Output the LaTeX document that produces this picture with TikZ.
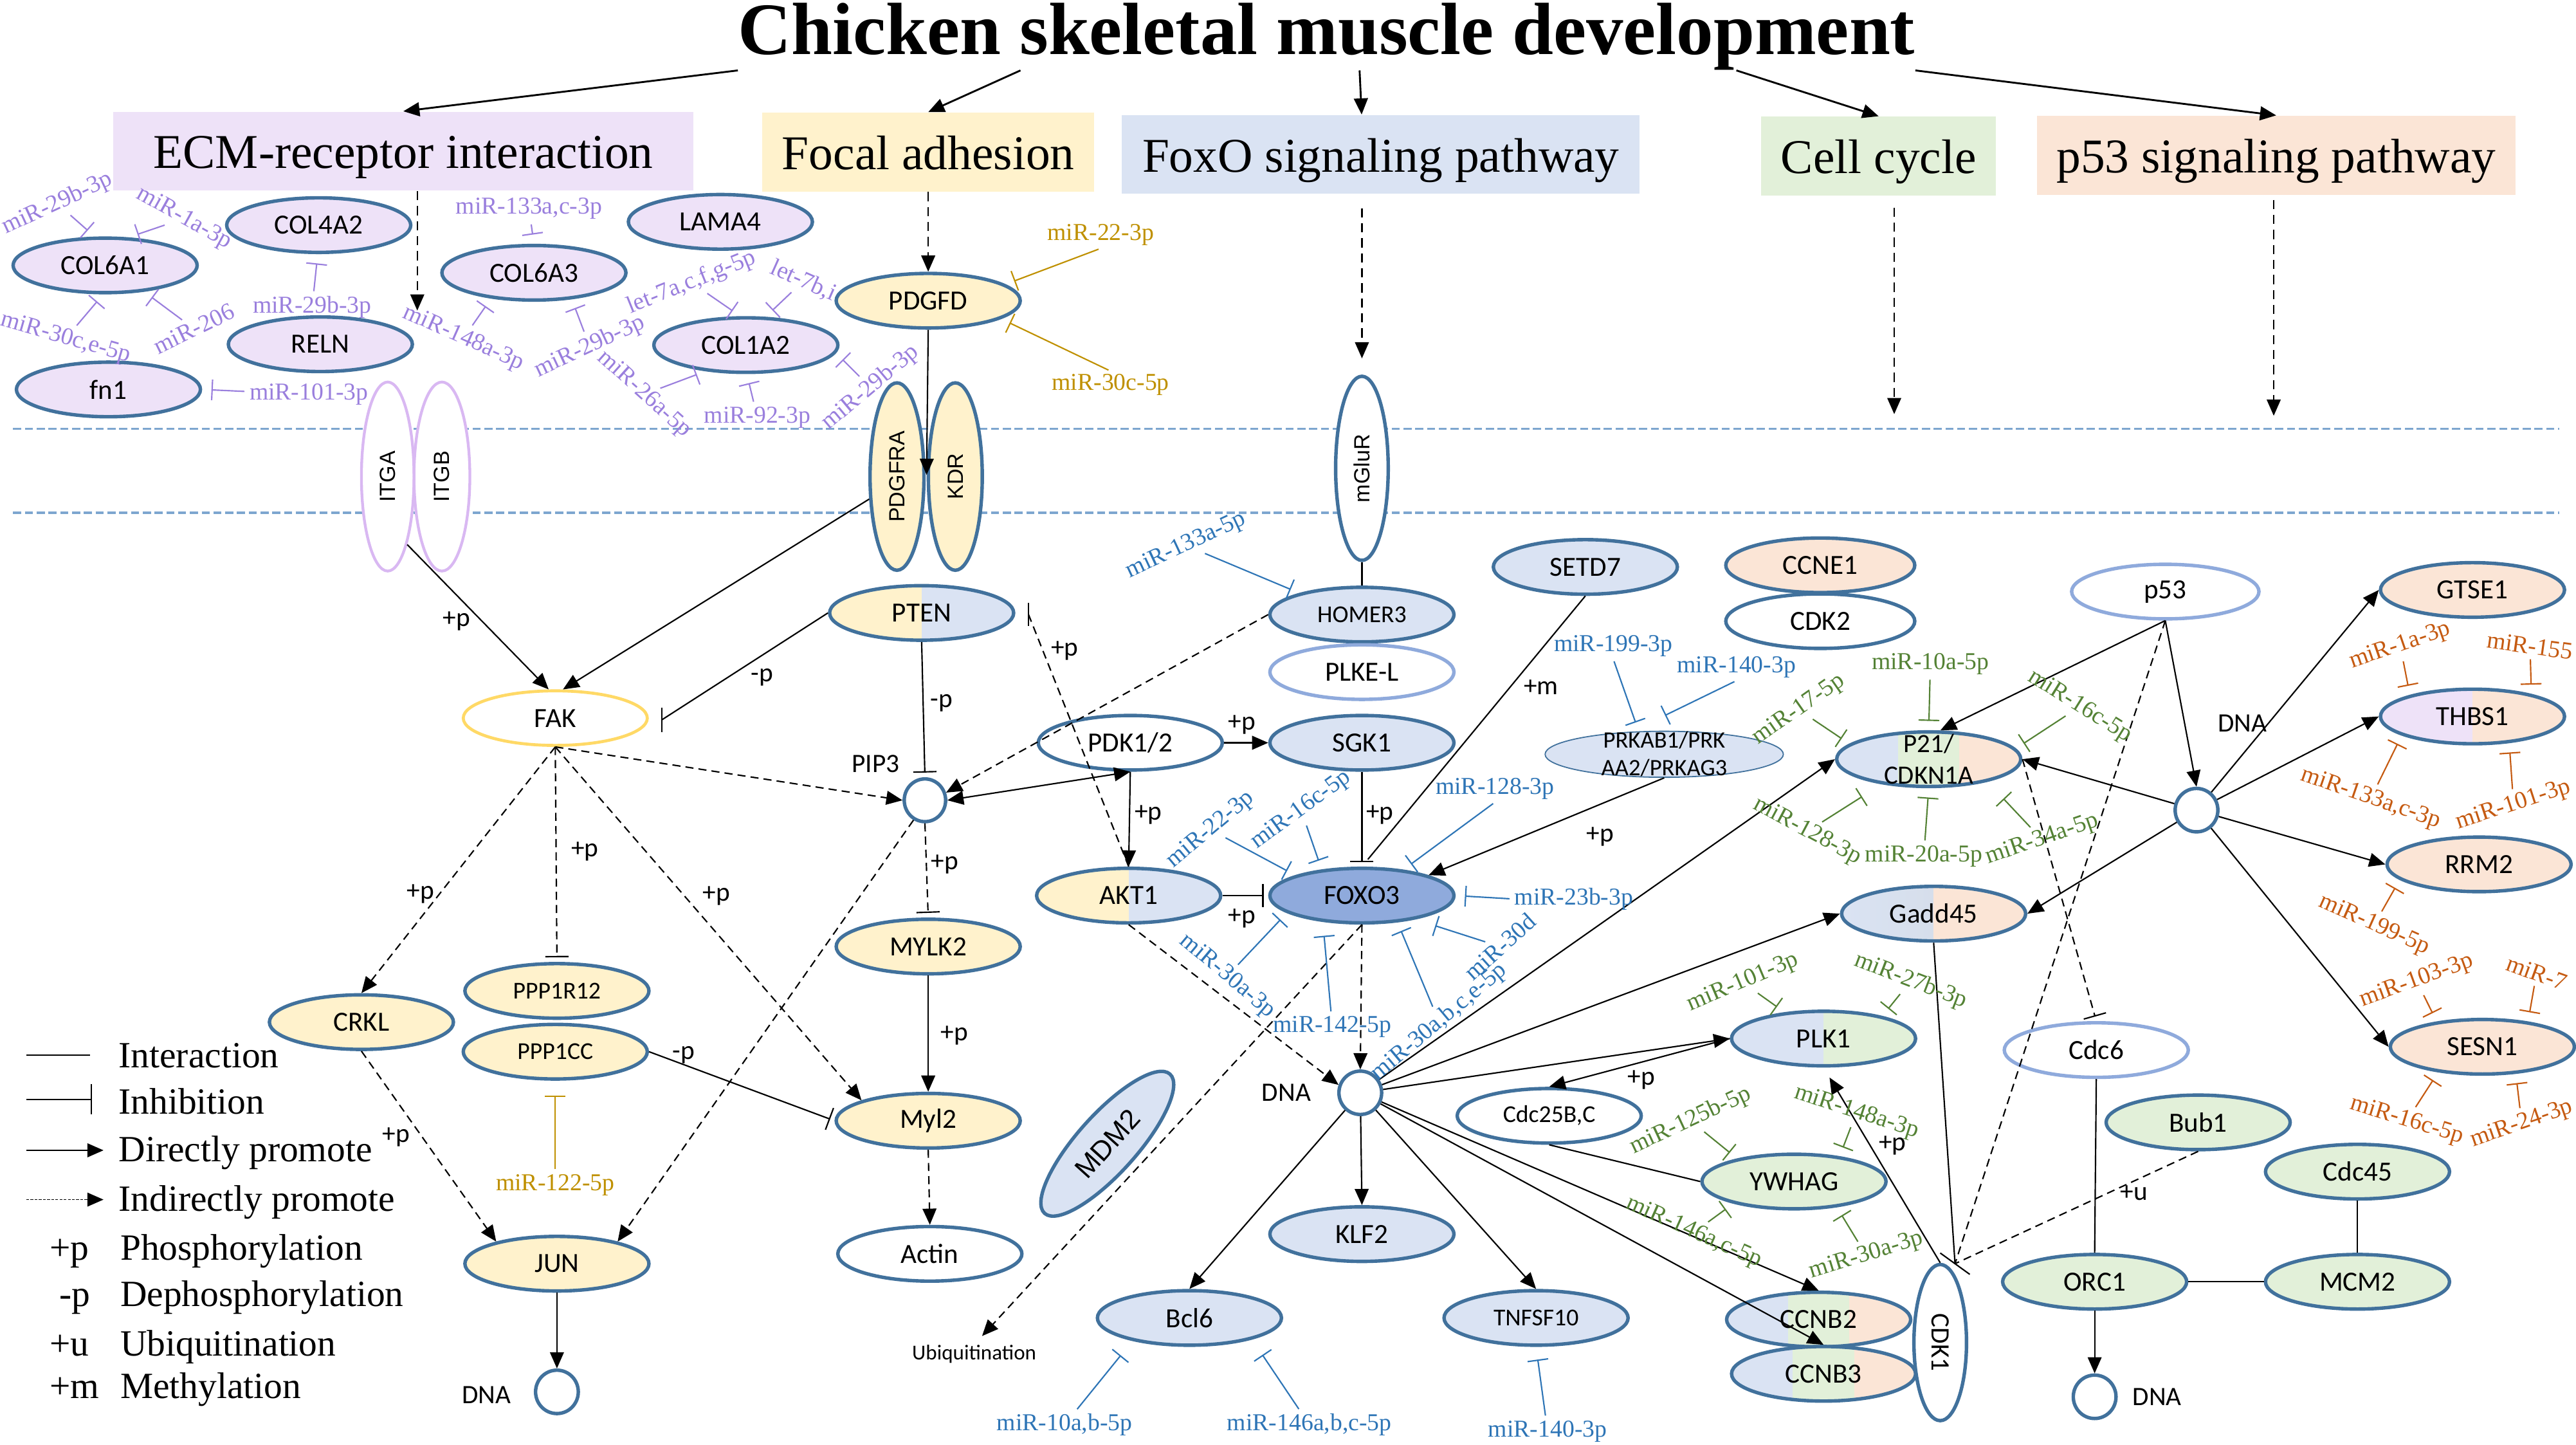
\documentclass[tikz,border=0pt]{standalone}
\usepackage{fontspec}
\usepackage{graphicx}
\setmainfont{Liberation Serif}
\newfontfamily\genefont{Carlito}
\newfontfamily\armfont{Liberation Sans}
\usetikzlibrary{shapes.geometric,arrows.meta,calc}

\definecolor{cbord}{HTML}{41719C}
\definecolor{clite}{HTML}{8FAADC}
\definecolor{cfak}{HTML}{FFD966}
\definecolor{citg}{HTML}{D9B8F2}
\definecolor{cpur}{HTML}{EEE2F8}
\definecolor{cyel}{HTML}{FFF2CC}
\definecolor{cblu}{HTML}{DAE3F3}
\definecolor{cdblu}{HTML}{8FAADC}
\definecolor{cgry}{HTML}{D2D9E3}
\definecolor{cgrn}{HTML}{E2F0D9}
\definecolor{cora}{HTML}{FBE5D6}
\definecolor{cmem}{HTML}{7DA6CF}
\definecolor{mpur}{HTML}{9A7FDD}
\definecolor{mgold}{HTML}{BF9000}
\definecolor{mblu}{HTML}{2E75B6}
\definecolor{mgrn}{HTML}{548235}
\definecolor{mora}{HTML}{C55A11}

\tikzset{
  gene/.style={ellipse, draw=cbord, line width=1.5pt, fill=white, minimum width=2.8cm,
    minimum height=0.83cm, inner sep=0pt, font=\genefont\fontsize{12}{13}\selectfont},
  sgene/.style={font=\genefont\fontsize{10.5}{12}\selectfont},
  vgene/.style={gene, minimum width=0.82cm, minimum height=2.85cm, font=\armfont\fontsize{9.5}{11}\selectfont},
  dna/.style={ellipse, draw=cbord, line width=1.5pt, fill=white, minimum width=0.65cm,
    minimum height=0.66cm, inner sep=0pt},
  twoline/.style={align=center, inner sep=0pt},
  lbl/.style={inner sep=0pt, font=\genefont\fontsize{11.5}{13}\selectfont},
  hdr/.style={rectangle, minimum height=1.2cm, inner sep=0pt, text height=16pt, text depth=1pt,
    font=\fontsize{21}{23}\selectfont},
  leg/.style={anchor=base west, inner sep=0pt, font=\fontsize{16}{18}\selectfont},
  half/.style 2 args={path picture={
    \fill[#1] (path picture bounding box.south west) rectangle (path picture bounding box.north);
    \fill[#2] (path picture bounding box.south) rectangle (path picture bounding box.north east);}},
  third/.style n args={3}{path picture={
    \fill[#1] (path picture bounding box.south west) rectangle ($(path picture bounding box.north west)!0.333!(path picture bounding box.north east)$);
    \fill[#2] ($(path picture bounding box.south west)!0.333!(path picture bounding box.south east)$) rectangle ($(path picture bounding box.north west)!0.667!(path picture bounding box.north east)$);
    \fill[#3] ($(path picture bounding box.south west)!0.667!(path picture bounding box.south east)$) rectangle (path picture bounding box.north east);}},
  gadd/.style={path picture={
    \shade[left color=cblu, right color=cgry] (path picture bounding box.south west) rectangle (path picture bounding box.north);
    \fill[cora] (path picture bounding box.south) rectangle (path picture bounding box.north east);}},
  ln/.style={line width=0.6pt},
  dln/.style={ln, dash pattern=on 3.5pt off 2.2pt},
  arr/.style={ln, -{Triangle[length=7pt,width=6pt]}},
  darr/.style={arr, dash pattern=on 3.5pt off 2.2pt},
  inh/.style={ln, -{Bar[width=10pt]}, shorten >=2pt},
  dinh/.style={inh, dash pattern=on 3.5pt off 2.2pt},
  mem/.style={draw=cmem, line width=0.9pt, dash pattern=on 3.5pt off 1.6pt},
  mir/.style={inner sep=1pt, font=\fontsize{10.5}{11}\selectfont},
  mp/.style={mir, text=mpur}, mgd/.style={mir, text=mgold}, mb/.style={mir, text=mblu},
  mg/.style={mir, text=mgrn}, mo/.style={mir, text=mora},
  mi/.style={line width=0.6pt, -{Bar[width=9pt]}, shorten >=4pt, shorten <=1pt},
  mip/.style={mi, draw=mpur}, migd/.style={mi, draw=mgold}, mib/.style={mi, draw=mblu},
  mig/.style={mi, draw=mgrn}, mio/.style={mi, draw=mora},
}

\begin{document}
\begin{tikzpicture}[x=0.025cm, y=-0.025cm]
\useasboundingbox (0,0) rectangle (1568,879);

\node[anchor=base, inner sep=0pt, font=\bfseries\fontsize{32}{36}\selectfont] (title) at (807.5,33) {Chicken skeletal muscle development};

\node[hdr, fill=cpur, minimum width=8.825cm] (ecm) at (245.5,92) {ECM-receptor interaction};
\node[hdr, fill=cyel, minimum width=5.05cm] (focal) at (565,92.5) {Focal adhesion};
\node[hdr, fill=cblu, minimum width=7.875cm] (foxo) at (840.5,94) {FoxO signaling pathway};
\node[hdr, fill=cgrn, minimum width=3.575cm] (cyc) at (1143.5,95) {Cell cycle};
\node[hdr, fill=cora, minimum width=7.275cm] (p53h) at (1385.5,94.5) {p53 signaling pathway};

\draw[arr, line width=0.8pt] (title.south west) -- (ecm.north);
\draw[arr, line width=0.8pt] ($(title.south west)!0.24!(title.south east)$) -- (focal.north);
\draw[arr, line width=0.8pt] ($(title.south west)!0.528!(title.south east)$) -- ($(foxo.north west)!0.463!(foxo.north east)$);
\draw[arr, line width=0.8pt] ($(title.south west)!0.848!(title.south east)$) -- (cyc.north);
\draw[arr, line width=0.8pt] (title.south east) -- (p53h.north);

\draw[mem] (8,261) -- (1558,261);
\draw[mem] (8,312) -- (1558,312);

% ECM-receptor interaction
\node[gene, fill=cpur] (COL6A1) at (64,161.5) {COL6A1};
\node[gene, fill=cpur] (COL4A2) at (194,137) {COL4A2};
\node[gene, fill=cpur] (COL6A3) at (325,166) {COL6A3};
\node[gene, fill=cpur] (LAMA4) at (438.5,135) {LAMA4};
\node[gene, fill=cpur] (RELN) at (195,209.5) {RELN};
\node[gene, fill=cpur] (COL1A2) at (454,210) {COL1A2};
\node[gene, fill=cpur] (fn1) at (66,237) {fn1};
\node[gene, fill=cyel] (PDGFD) at (565,183) {PDGFD};

\node[vgene, draw=citg, line width=1.2pt, minimum width=0.8cm, minimum height=2.875cm] (ITGA) at (236,290) {\rotatebox{90}{ITGA}};
\node[vgene, draw=citg, line width=1.2pt, minimum width=0.85cm, minimum height=2.875cm] (ITGB) at (269,290) {\rotatebox{90}{ITGB}};
\node[vgene, fill=cyel] (PDGFRA) at (546,290) {\rotatebox{90}{PDGFRA}};
\node[vgene, fill=cyel] (KDR) at (581.5,290) {\rotatebox{90}{KDR}};
\node[vgene, minimum width=0.8cm, minimum height=2.8cm] (mGluR) at (829,285) {\rotatebox{90}{mGluR}};

\coordinate (ecmtip) at (254,189);
\coordinate (cctip) at (1153,252);
\coordinate (p53tip) at (1384,253);
\draw[darr, dash pattern=on 4pt off 2.5pt] (ecm.south -| ecmtip) -- (ecmtip);
\draw[darr, dash pattern=on 4pt off 2.5pt] (focal.south) -- (PDGFD.north);
\draw[darr, dash pattern=on 4pt off 2.5pt, shorten <=6pt, shorten >=7pt] (foxo.south -| mGluR) -- (mGluR.north);
\draw[darr, dash pattern=on 4pt off 2.5pt, shorten <=5pt] (cyc.south -| cctip) -- (cctip);
\draw[darr, dash pattern=on 4pt off 2.5pt, shorten <=2pt] (p53h.south -| p53tip) -- (p53tip);

\node[mp, rotate=25] (m1) at (35,124) {miR-29b-3p};
\draw[mip] (m1) -- (COL6A1.110);
\node[mp, rotate=-29] (m2) at (112,133) {miR-1a-3p};
\draw[mip] (m2) -- (COL6A1.50);
\node[mp, rotate=-16] (m3) at (40,206) {miR-30c,e-5p};
\draw[mip] (m3) -- (COL6A1.266);
\node[mp, rotate=26] (m4) at (118,200) {miR-206};
\draw[mip] (m4) -- (COL6A1.-34);
\node[mp] (m5) at (190,187) {miR-29b-3p};
\draw[mip] (m5) -- (COL4A2.-92);
\node[mp] (m6) at (322,127) {miR-133a,c-3p};
\draw[mip] (m6) -- (COL6A3.north);
\node[mp, rotate=-24] (m7) at (282,206) {miR-148a-3p};
\draw[mip] (m7) -- (COL6A3.211);
\node[mp, rotate=25] (m8) at (359,211) {miR-29b-3p};
\draw[mip] (m8) -- (COL6A3.-35);
\node[mp, rotate=-42] (m9) at (392,240) {miR-26a-5p};
\draw[mip] (m9) -- (COL1A2.213);
\node[mp, rotate=22] (m10) at (421,172) {let-7a,c,f,g-5p};
\draw[mip] (m10) -- (COL1A2.101);
\node[mp, rotate=-24] (m11) at (489,171) {let-7b,i};
\draw[mip] (m11) -- (COL1A2.55);
\node[mp] (m12) at (461,254) {miR-92-3p};
\draw[mip] (m12) -- (COL1A2.-88);
\node[mp, rotate=40] (m13) at (530,236) {miR-29b-3p};
\draw[mip] (m13) -- (COL1A2.-5);
\node[mp] (m14) at (188,240) {miR-101-3p};
\draw[mip] (m14) -- (fn1.east);

% Focal adhesion
\node[mgd] (m15) at (670,143) {miR-22-3p};
\draw[migd] (m15.south) -- (PDGFD.12);
\node[mgd] (m16) at (676,234) {miR-30c-5p};
\draw[migd] (m16.north) -- (PDGFD.-14);

% signalling inside the cell
\node[gene, draw=cfak, line width=1.3pt] (FAK) at (338,437) {FAK};
\node[gene, half={cyel}{cblu}] (PTEN) at (561,373) {PTEN};
\node[gene, fill=cblu, sgene] (HOMER3) at (829,374) {HOMER3};
\node[gene, draw=clite] (PLKEL) at (829,409) {PLKE-L};
\node[gene, fill=cblu] (SETD7) at (965,345) {SETD7};
\node[gene, fill=cora, minimum width=2.875cm] (CCNE1) at (1108,344) {CCNE1};
\node[gene, minimum width=2.875cm] (CDK2) at (1108,378) {CDK2};
\node[gene, fill=cblu, line width=0.5pt, minimum width=3.625cm, minimum height=0.7cm] (PRKAB) at (1013,459) {};
\node[twoline, font=\genefont\fontsize{10.2}{12}\selectfont] (PRKABt) at (PRKAB) {PRKAB1/PRK\\AA2/PRKAG3};
\node[gene, draw=clite, minimum width=2.85cm] (p53) at (1318,360) {p53};
\node[gene, fill=cora] (GTSE1) at (1505,359) {GTSE1};
\node[gene, half={cpur}{cora}] (THBS1) at (1505,436) {THBS1};
\node[gene, fill=cora] (RRM2) at (1509,526) {RRM2};
\node[gene, fill=cora] (SESN1) at (1511,637) {SESN1};
\node[gene, third={cblu}{cgrn}{cora}] (P21) at (1174,462) {};
\node[twoline, font=\genefont\fontsize{11.4}{13.5}\selectfont] (P21t) at (P21) {P21/\\CDKN1A};
\node[gene, gadd] (Gadd45) at (1177,556) {Gadd45};
\node[gene] (PDK) at (688,452) {PDK1/2};
\node[gene, fill=cblu] (SGK1) at (829,452) {SGK1};
\node[dna, minimum width=0.63cm, minimum height=0.65cm] (PIP3) at (563,487) {};
\node[lbl] (PIP3l) at (533,465) {PIP3};
\node[gene, half={cyel}{cblu}] (AKT1) at (687,545) {AKT1};
\node[gene, fill=cdblu] (FOXO3) at (829,545) {FOXO3};
\node[gene, fill=cyel] (MYLK2) at (565,576) {MYLK2};
\node[dna] (dnap) at (1337,493) {};
\node[lbl] (dnapl) at (1365,440) {DNA};

\node[gene, fill=cyel] (CRKL) at (220,622) {CRKL};
\node[gene, fill=cyel, sgene] (PPP1R12) at (339,603) {PPP1R12};
\node[gene, fill=cyel, sgene] (PPP1CC) at (338,640) {PPP1CC};
\node[gene, fill=cyel] (JUN) at (339,769) {JUN};
\node[dna] (dna1) at (339,847) {};
\node[lbl] (dna1l) at (296,849) {DNA};
\node[gene, fill=cyel] (Myl2) at (565,682) {Myl2};
\node[gene] (Actin) at (566,763) {Actin};
\node[gene, fill=cblu, rotate=48, minimum width=2.85cm, minimum height=0.9cm, font=\armfont\fontsize{12}{13}\selectfont] (MDM2) at (674,696) {MDM2};
\node[inner sep=0pt, font=\genefont\fontsize{9.2}{11}\selectfont] (ubq) at (593,824) {Ubiquitination};
\node[dna] (dna2) at (828,665) {};
\node[lbl] (dna2l) at (783,665) {DNA};
\node[gene, fill=cblu] (KLF2) at (829,751) {KLF2};
\node[gene, fill=cblu] (Bcl6) at (724,802) {Bcl6};
\node[gene, fill=cblu, sgene] (TNFSF10) at (935,802) {TNFSF10};
\node[gene, sgene] (Cdc25) at (943,679) {Cdc25B,C};
\node[gene, half={cblu}{cgrn}] (PLK1) at (1110,632) {PLK1};
\node[gene, fill=cgrn] (YWHAG) at (1092,719) {YWHAG};
\node[gene, third={cblu}{cgrn}{cora}] (CCNB2) at (1107,803) {CCNB2};
\node[gene, third={cblu}{cgrn}{cora}] (CCNB3) at (1110,836) {CCNB3};
\node[gene, minimum width=0.8cm, minimum height=2.375cm, font=\genefont\fontsize{11.5}{13}\selectfont] (CDK1) at (1181,817) {\rotatebox{-90}{CDK1}};
\node[gene, draw=clite] (Cdc6) at (1276,639) {Cdc6};
\node[gene, fill=cgrn] (Bub1) at (1338,683) {Bub1};
\node[gene, fill=cgrn] (Cdc45) at (1435,713) {Cdc45};
\node[gene, fill=cgrn] (ORC1) at (1275,780) {ORC1};
\node[gene, fill=cgrn] (MCM2) at (1435,780) {MCM2};
\node[dna] (dna4) at (1275,850) {};
\node[lbl] (dna4l) at (1313,850) {DNA};

\coordinate (rtk) at (564,289);
\draw[arr] (PDGFD.south) -- (rtk);
\draw[ln] (mGluR.south) -- (HOMER3.north);
\draw[arr] (ITGA.-74) -- (FAK.103);
\draw[arr] (PDGFRA.219) -- (FAK.75);
\node[lbl] (pl1) at (278,378) {+p};
\coordinate (fakbar) at ($(FAK.east)+(8,1)$);
\draw[ln] (PTEN.west) -- (fakbar);
\draw[ln] ($(fakbar)+(0,-7.5)$) -- ($(fakbar)+(0,7.5)$);
\node[lbl] (pl2) at (464,412) {-p};
\draw[inh] (PTEN.south) -- (PIP3.north);
\node[lbl] (pl3) at (573,428) {-p};
\coordinate (ptenbar) at ($(PTEN.east)+(8,1)$);
\draw[dln] (AKT1.north) -- (ptenbar);
\draw[ln] ($(ptenbar)+(0,-7)$) -- ($(ptenbar)+(0,7)$);
\node[lbl] (pl4) at (648,396) {+p};
\draw[darr] (HOMER3.west) -- (PIP3.20);
\draw[darr] (FAK.south) -- (PIP3.west);
\draw[ln, {Triangle[length=7pt,width=6pt]}-{Triangle[length=7pt,width=6pt]}] (PIP3.east) -- (PDK.south);
\draw[arr] (PDK.east) -- (SGK1.west);
\node[lbl] (pl5) at (756,441) {+p};
\draw[arr] (PDK.south) -- (AKT1.north);
\node[lbl] (pl6) at (699,496) {+p};
\draw[inh] (SGK1.south) -- (FOXO3.north);
\node[lbl] (pl7) at (840,496) {+p};
\draw[inh] (AKT1.east) -- (FOXO3.west);
\node[lbl] (pl8) at (756,559) {+p};
\draw[ln, shorten >=4pt] (SETD7.south) -- (FOXO3.north);
\node[lbl] (pl9) at (938,418) {+m};
\draw[arr] (PRKAB.south) -- (FOXO3.17);
\node[lbl] (pl10) at (974,509) {+p};

\draw[darr] (FAK.south) -- (CRKL.north);
\node[lbl] (pl11) at (256,544) {+p};
\draw[dinh] (FAK.south) -- (PPP1R12.north);
\node[lbl] (pl12) at (356,518) {+p};
\draw[darr] (FAK.south) -- (Myl2.163);
\node[lbl] (pl13) at (436,545) {+p};
\draw[darr] (PIP3.240) -- (JUN.20);
\draw[dinh] (PIP3.south) -- (MYLK2.north);
\node[lbl] (pl14) at (575,526) {+p};
\draw[arr] (MYLK2.south) -- (Myl2.north);
\node[lbl] (pl15) at (581,630) {+p};
\draw[inh] (PPP1CC.east) -- (Myl2.west);
\node[lbl] (pl16) at (416,642) {-p};
\draw[darr] (CRKL.south) -- (JUN.160);
\node[lbl] (pl17) at (241,692) {+p};
\draw[arr] (JUN.south) -- (dna1.north);
\draw[darr] (Myl2.south) -- (Actin.north);
\node[mgd] (m17) at (338,721) {miR-122-5p};
\draw[migd, shorten >=6.5pt] (m17) -- (PPP1CC.south);

\draw[darr] (AKT1.south) -- (dna2.160);
\draw[darr] (FOXO3.south) -- (dna2.north);
\draw[darr, shorten >=5pt] (FOXO3.south) -- (ubq.north);
\draw[arr] (dna2) -- (KLF2.north);
\draw[arr] (dna2) -- (Bcl6.north);
\draw[arr] (dna2) -- (TNFSF10.north);
\draw[arr] (dna2) -- (CCNB2.north);
\draw[arr] (dna2) -- (CCNB3.north);
\draw[arr] (dna2) -- (PLK1.west);
\draw[arr] (dna2) -- (P21.west);
\draw[arr] (dna2) -- (Gadd45.west);
\draw[arr] (PLK1.west) -- (Cdc25.north);
\node[lbl] (pl18) at (999,657) {+p};
\draw[ln] (Cdc25.south) -- (YWHAG.west);
\draw[arr, shorten >=5pt] (CDK1.north) -- (PLK1.south);
\node[lbl] (pl19) at (1152,697) {+p};

\coordinate (cdkbar) at (1190,769);
\draw[ln] (Gadd45.south) -- (cdkbar);
\draw[ln] ($(cdkbar)+(-9,-6.5)$) -- ($(cdkbar)+(9,6.5)$);
\draw[dln] (p53.south) -- (cdkbar);
\draw[dln] (Bub1.south) -- (cdkbar);
\node[lbl] (pl20) at (1299,726) {+u};
\draw[arr] (p53.south) -- (P21.68);
\draw[arr] (p53.south) -- (dnap.north);
\draw[dinh] (P21.east) -- (Cdc6.north);
\draw[arr] (dnap) -- (GTSE1.west);
\draw[arr] (dnap) -- (THBS1.west);
\draw[arr] (dnap) -- (RRM2.west);
\draw[arr] (dnap) -- (SESN1.west);
\draw[arr] (dnap) -- (P21.east);
\draw[arr] (dnap) -- (Gadd45.east);
\draw[ln] (Cdc6.south) -- (ORC1.north);
\draw[arr] (ORC1.south) -- (dna4.north);
\draw[ln] (ORC1.east) -- (MCM2.west);
\draw[ln] (Cdc45.south) -- (MCM2.north);

% FoxO microRNAs
\node[mb, rotate=25] (m18) at (722,332) {miR-133a-5p};
\draw[mib] (m18) -- (HOMER3.161);
\node[mb] (m19) at (982,393) {miR-199-3p};
\draw[mib] (m19.south) -- (PRKAB.138);
\node[mb] (m20) at (1057,406) {miR-140-3p};
\draw[mib, shorten >=16pt] (m20.south) -- (PRKAB.145);
\node[mb] (m21) at (910,480) {miR-128-3p};
\draw[mib] (m21.south) -- (FOXO3.32);
\node[mb] (m22) at (958,547) {miR-23b-3p};
\draw[mib] (m22.west) -- (FOXO3.east);
\node[mb, rotate=40] (m23) at (737,505) {miR-22-3p};
\draw[mib] (m23) -- (FOXO3.163);
\node[mb, rotate=36] (m24) at (792,493) {miR-16c-5p};
\draw[mib] (m24) -- (FOXO3.147);
\node[mb, rotate=-40] (m25) at (747,594) {miR-30a-3p};
\draw[mib] (m25) -- (FOXO3.193);
\node[mb] (m26) at (811,625) {miR-142-5p};
\draw[mib, shorten >=6pt] (m26) -- (FOXO3.214);
\node[mb, rotate=40] (m27) at (876,622) {miR-30a,b,c,e-5p};
\draw[mib] (m27) -- (FOXO3.-37);
\node[mb, rotate=42] (m28) at (913,576) {miR-30d};
\draw[mib, shorten >=9pt] (m28) -- (FOXO3.-24);
\node[mb] (m29) at (648,867) {miR-10a,b-5p};
\draw[mib, shorten >=8pt] (m29) -- (Bcl6.202);
\node[mb] (m30) at (797,867) {miR-146a,b,c-5p};
\draw[mib, shorten >=8pt] (m30) -- (Bcl6.-19);
\node[mb] (m31) at (942,871) {miR-140-3p};
\draw[mib, shorten >=5.5pt] (m31) -- (TNFSF10.south);

% cell cycle microRNAs
\node[mg, rotate=35] (m32) at (1095,432) {miR-17-5p};
\draw[mig] (m32) -- (P21.169);
\node[mg] (m33) at (1175,404) {miR-10a-5p};
\draw[mig] (m33) -- (P21.north);
\node[mg, rotate=-32] (m34) at (1266,430) {miR-16c-5p};
\draw[mig] (m34) -- (P21.7);
\node[mg, rotate=-28] (m35) at (1100,506) {miR-128-3p};
\draw[mig, shorten >=10pt] (m35) -- (P21.208);
\node[mg] (m36) at (1171,521) {miR-20a-5p};
\draw[mig] (m36) -- (P21.south);
\node[mg, rotate=19] (m37) at (1243,511) {miR-34a-5p};
\draw[mig, shorten >=10pt] (m37) -- (P21.-21);
\node[mg, rotate=23] (m38) at (1061,598) {miR-101-3p};
\draw[mig] (m38) -- (PLK1.146);
\node[mg, rotate=-21] (m39) at (1163,597) {miR-27b-3p};
\draw[mig] (m39) -- (PLK1.21);
\node[mg, rotate=25] (m40) at (1029,682) {miR-125b-5p};
\draw[mig] (m40) -- (YWHAG.158);
\node[mg, rotate=-18] (m41) at (1130,677) {miR-148a-3p};
\draw[mig] (m41) -- (YWHAG.29);
\node[mg, rotate=-24] (m42) at (1031,750) {miR-146a,c-5p};
\draw[mig] (m42) -- (YWHAG.200);
\node[mg, rotate=17] (m43) at (1136,764) {miR-30a-3p};
\draw[mig] (m43) -- (YWHAG.-31);

% p53 microRNAs
\node[mo, rotate=19] (m44) at (1461,393) {miR-1a-3p};
\draw[mio] (m44) -- (THBS1.161);
\node[mo, rotate=-8] (m45) at (1540,393) {miR-155};
\draw[mio] (m45) -- (THBS1.21);
\node[mo, rotate=-19] (m46) at (1443,486) {miR-133a,c-3p};
\draw[mio] (m46) -- (THBS1.195);
\node[mo, rotate=18] (m47) at (1530,490) {miR-101-3p};
\draw[mio] (m47) -- (THBS1.-36);
\node[mo, rotate=-24] (m48) at (1445,563) {miR-199-5p};
\draw[mio] (m48) -- (RRM2.191);
\node[mo, rotate=20] (m49) at (1471,597) {miR-103-3p};
\draw[mio] (m49) -- (SESN1.151);
\node[mo, rotate=-20] (m50) at (1544,592) {miR-7};
\draw[mio] (m50) -- (SESN1.29);
\node[mo, rotate=-17] (m51) at (1465,682) {miR-16c-5p};
\draw[mio] (m51) -- (SESN1.210);
\node[mo, rotate=19] (m52) at (1535,684) {miR-24-3p};
\draw[mio] (m52) -- (SESN1.-39);

% legend
\draw[ln] (16,642) -- (55,642);
\draw[ln, -{Bar[width=13pt]}] (16,669) -- (56,669);
\draw[ln, -{Triangle[length=7pt,width=6pt]}] (16,700) -- (63,700);
\draw[line width=0.5pt, dash pattern=on 1.2pt off 0.6pt, -{Triangle[length=7pt,width=6pt]}] (16,730) -- (63,730);
\node[leg] (lg1) at (72,649.6) {Interaction};
\node[leg] (lg2) at (72,678) {Inhibition};
\node[leg] (lg3) at (72,707) {Directly promote};
\node[leg] (lg4) at (72,737) {Indirectly promote};
\node[leg] (ls5) at (30,766.6) {+p};
\node[leg] (lg5) at (73,766.6) {Phosphorylation};
\node[leg] (ls6) at (36,795) {-p};
\node[leg] (lg6) at (73,795) {Dephosphorylation};
\node[leg] (ls7) at (30,825) {+u};
\node[leg] (lg7) at (73,825) {Ubiquitination};
\node[leg] (ls8) at (30,851) {+m};
\node[leg] (lg8) at (73,851) {Methylation};
\end{tikzpicture}
\end{document}
